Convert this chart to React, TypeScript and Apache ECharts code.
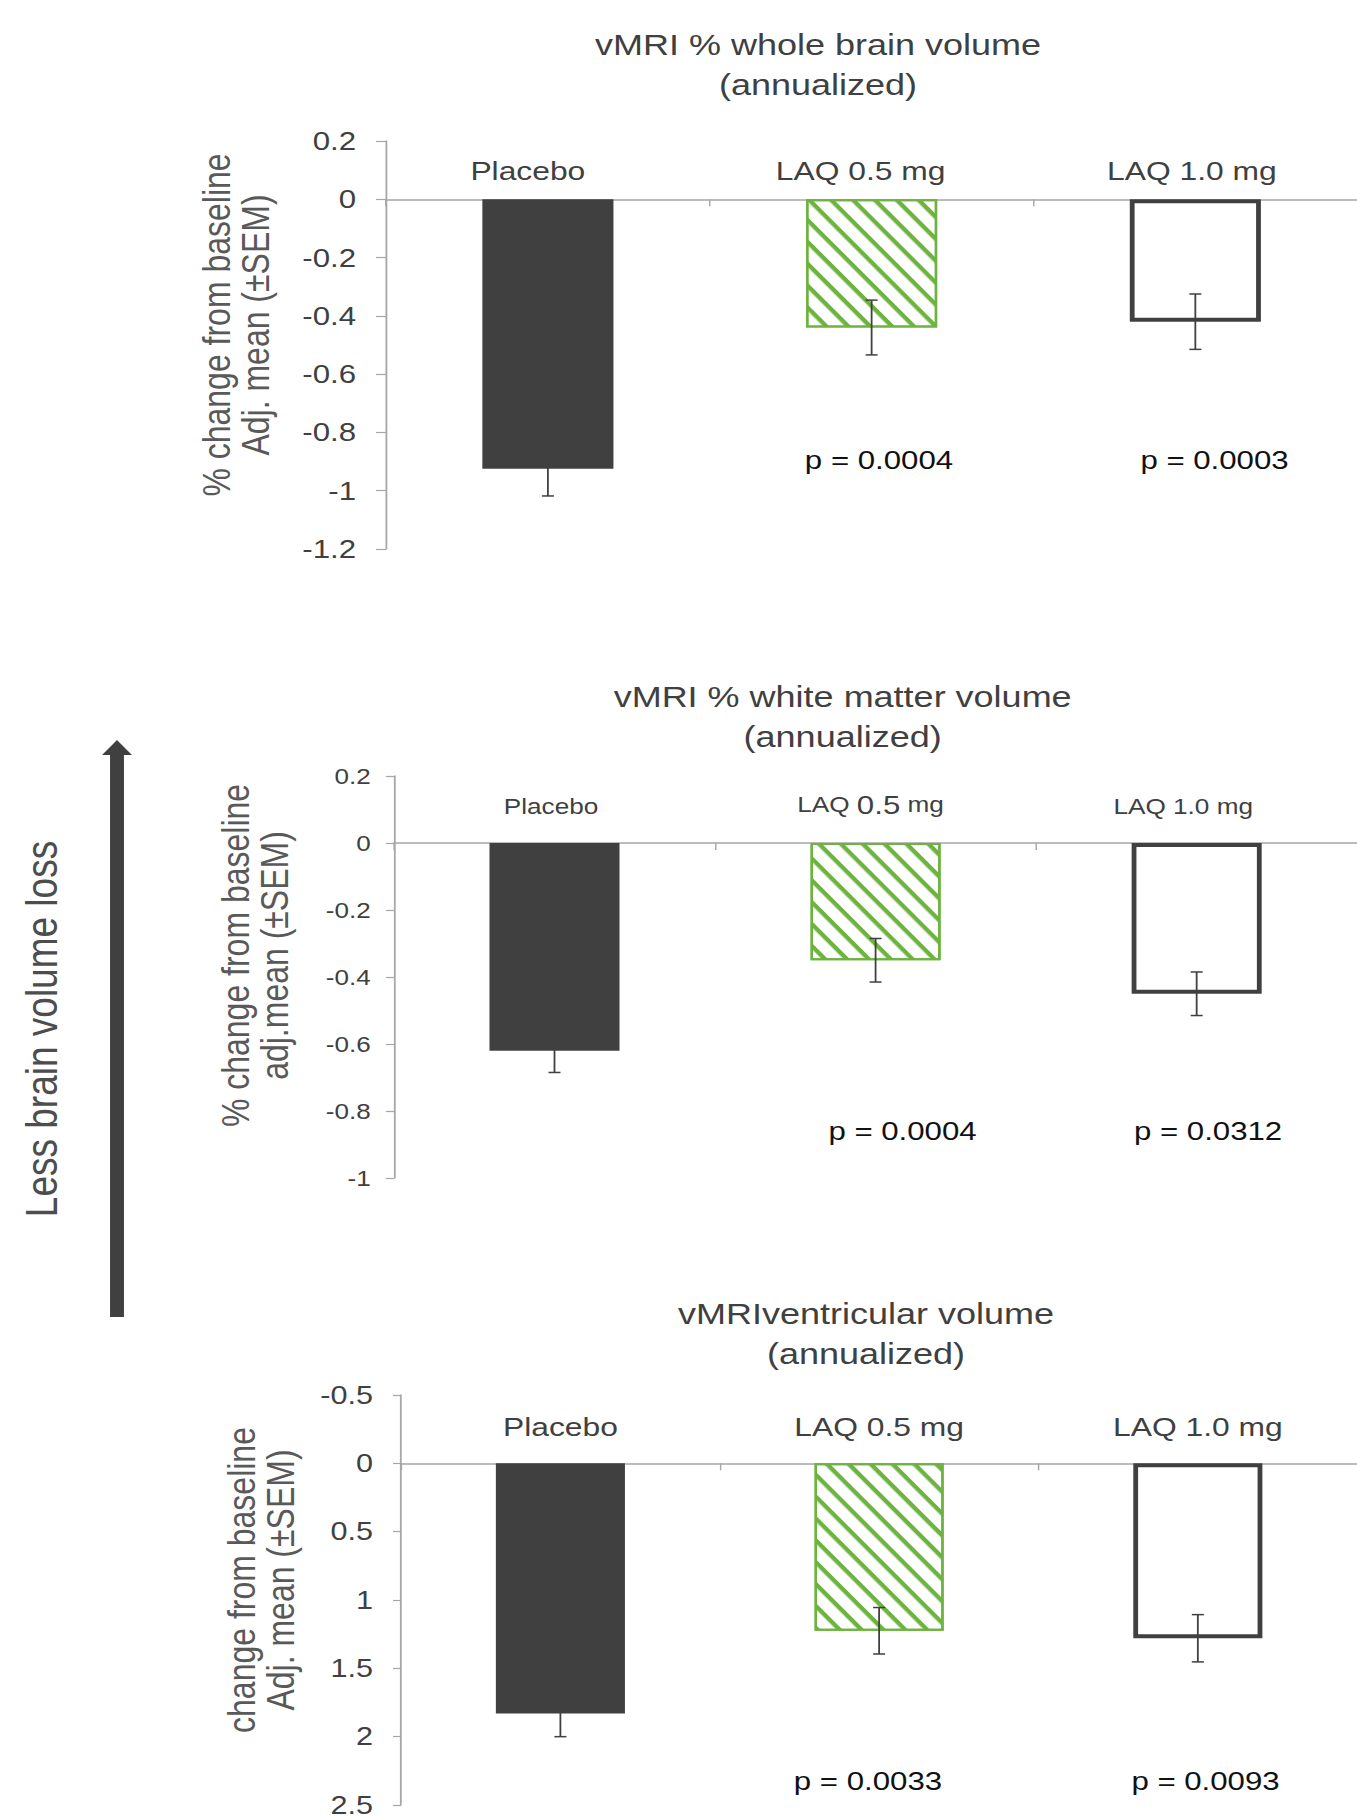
import React, { useEffect, useRef } from "react";
import * as echarts from "echarts";

// ---------- data ----------
const categories = ["Placebo", "LAQ 0.5 mg", "LAQ 1.0 mg"];

const wholeBrainMean = [-0.925, -0.44, -0.42];
const wholeBrainSem = [0.093, 0.094, 0.095];
const wholeBrainP = ["p = 0.0004", "p = 0.0003"];

const whiteMatterMean = [-0.62, -0.35, -0.45];
const whiteMatterSem = [0.065, 0.065, 0.065];
const whiteMatterP = ["p = 0.0004", "p = 0.0312"];

const ventricularMean = [1.83, 1.225, 1.28];
const ventricularSem = [0.17, 0.17, 0.173];
const ventricularP = ["p = 0.0033", "p = 0.0093"];

const titles = [
  "vMRI % whole brain volume\n(annualized)",
  "vMRI % white matter volume\n(annualized)",
  "vMRIventricular volume\n(annualized)",
];
const yNames = [
  "% change from baseline\nAdj. mean (\u00b1SEM)",
  "% change from baseline\nadj.mean (\u00b1SEM)",
  "change from baseline\nAdj. mean (\u00b1SEM)",
];
const sideNote = "Less brain volume loss";

// y-axis ranges: [min, max, interval]
const yRanges = [
  [-1.2, 0.2, 0.2],
  [-1, 0.2, 0.2],
  [-0.5, 2.5, 0.5],
];

// ---------- layout / style ----------
const SX = 1.2; // horizontal stretch of the original picture
const W = 1131;
const H = 1819;
const FONT = '"Liberation Sans", Arial, sans-serif';
const DARK = "#404040";
const GREEN = "#6cb33f";
const AXIS = "#a6a6a6";

const panels = [
  {
    mean: wholeBrainMean, sem: wholeBrainSem, p: wholeBrainP, inverse: false,
    grid: { left: 321.7, top: 141, height: 408 },
    tickFont: 26, catFont: 26.5, yMargin: 25, tickLen: 8.3, catMargin: -43.5,
    shift: [-16.7, -9.2, -2.9],
    title: [681.7, 65], name: [196.7, 325], pPos: [[732.5, 460], [1012.1, 460]],
  },
  {
    mean: whiteMatterMean, sem: whiteMatterSem, p: whiteMatterP, inverse: false,
    grid: { left: 328.3, top: 776, height: 402 },
    tickFont: 21.7, catFont: 21.8, yMargin: 19.4, tickLen: 6.7, catMargin: -41.7,
    shift: [-2.9, -4.2, -11.2], bigMid: true,
    title: [702.2, 717], name: [212.5, 955.5], pPos: [[752.1, 1131], [1006.7, 1131]],
  },
  {
    mean: ventricularMean, sem: ventricularSem, p: ventricularP, inverse: true,
    grid: { left: 334.2, top: 1395, height: 410 },
    tickFont: 25.5, catFont: 26.5, yMargin: 23.3, tickLen: 6.7, catMargin: -45.5,
    shift: [0, 0, 0],
    title: [721.7, 1334], name: [217.5, 1580], pPos: [[723.3, 1781], [1004.6, 1781]],
  },
];

const barStyles = [
  { color: DARK },
  {
    color: "#ffffff",
    borderColor: GREEN,
    borderWidth: 2,
    decal: {
      symbol: "rect",
      symbolSize: 1,
      color: GREEN,
      dashArrayX: [1, 0],
      dashArrayY: [3.6, 9.6],
      rotation: 0.876,
    },
  },
  { color: "#ffffff", borderColor: DARK, borderWidth: 4 },
];

function buildOption() {
  const grid: any[] = [];
  const xAxis: any[] = [];
  const yAxis: any[] = [];
  const series: any[] = [];
  const graphic: any[] = [];

  panels.forEach((pn, i) => {
    grid.push({ left: pn.grid.left, top: pn.grid.top, height: pn.grid.height, right: 0 });

    const rich: any = {};
    pn.shift.forEach((s, k) => {
      rich["s" + k] = {
        fontSize: pn.catFont, fontFamily: FONT, color: DARK,
        padding: s < 0 ? [0, -2 * s, 0, 0] : [0, 0, 0, 2 * s],
      };
    });
    rich.a = { fontSize: pn.catFont, fontFamily: FONT, color: DARK };
    rich.b = { fontSize: 26, fontFamily: FONT, color: DARK };
    rich.c = {
      fontSize: pn.catFont, fontFamily: FONT, color: DARK,
      padding: [0, -2 * pn.shift[1], 0, 0],
    };

    xAxis.push({
      gridIndex: i,
      type: "category",
      data: categories,
      position: "top",
      axisLine: { show: true, onZero: true, lineStyle: { color: AXIS, width: 1.5 } },
      axisTick: { show: true, inside: true, length: 7, lineStyle: { color: AXIS, width: 1.2 } },
      splitLine: { show: false },
      axisLabel: {
        interval: 0,
        hideOverlap: false,
        margin: pn.catMargin,
        fontSize: pn.catFont,
        fontFamily: FONT,
        color: DARK,
        formatter: (v: string, k: number) => {
          if (pn.bigMid && k === 1) {
            const m = v.match(/^(\S+ )(\S+)( .*)$/);
            if (m) return `{a|${m[1]}}{b|${m[2]}}{c|${m[3]}}`;
          }
          return `{s${k}|${v}}`;
        },
        rich,
      },
    });

    const [mn, mx, iv] = yRanges[i];
    yAxis.push({
      gridIndex: i,
      type: "value",
      min: mn,
      max: mx,
      interval: iv,
      inverse: pn.inverse,
      axisLine: { show: true, lineStyle: { color: AXIS, width: 1.5 } },
      axisTick: { show: true, length: pn.tickLen, lineStyle: { color: AXIS, width: 1.2 } },
      splitLine: { show: false },
      axisLabel: { fontSize: pn.tickFont, fontFamily: FONT, color: DARK, margin: pn.yMargin },
    });

    series.push({
      type: "bar",
      xAxisIndex: i,
      yAxisIndex: i,
      barWidth: "40.5%",
      z: 2,
      data: pn.mean.map((v, k) => ({ value: v, itemStyle: barStyles[k] })),
    });

    series.push({
      type: "custom",
      xAxisIndex: i,
      yAxisIndex: i,
      z: 4,
      encode: { x: 0, y: 1 },
      data: pn.mean.map((v, k) => [k, v, pn.sem[k]]),
      renderItem: (params: any, api: any) => {
        const c = api.value(0);
        const m = api.value(1);
        const s = api.value(2);
        const a = api.coord([c, m - s]);
        const b = api.coord([c, m + s]);
        const hw = 5;
        const st = { stroke: DARK, lineWidth: 1.5 };
        return {
          type: "group",
          children: [
            { type: "line", shape: { x1: a[0], y1: a[1], x2: b[0], y2: b[1] }, style: st },
            { type: "line", shape: { x1: a[0] - hw, y1: a[1], x2: a[0] + hw, y2: a[1] }, style: st },
            { type: "line", shape: { x1: b[0] - hw, y1: b[1], x2: b[0] + hw, y2: b[1] }, style: st },
          ],
        };
      },
    });

    graphic.push({
      type: "text",
      x: pn.title[0],
      y: pn.title[1],
      style: {
        text: titles[i], fill: DARK, fontSize: 30, fontFamily: FONT,
        align: "center", verticalAlign: "middle", lineHeight: 40,
      },
    });
    graphic.push({
      type: "text",
      x: pn.name[0],
      y: pn.name[1],
      rotation: Math.PI / 2,
      style: {
        text: yNames[i], fill: "#595959", fontSize: 32, fontFamily: FONT,
        align: "center", verticalAlign: "middle", lineHeight: 32,
      },
    });
    pn.p.forEach((t, k) => {
      graphic.push({
        type: "text",
        x: pn.pPos[k][0],
        y: pn.pPos[k][1],
        style: {
          text: t, fill: "#111111", fontSize: 26, fontFamily: FONT,
          align: "center", verticalAlign: "middle",
        },
      });
    });
  });

  // side arrow and note
  graphic.push({
    type: "polygon",
    shape: {
      points: [
        [91.7, 1317], [91.7, 755], [85, 755], [97.5, 740],
        [110, 755], [103.3, 755], [103.3, 1317],
      ],
    },
    style: { fill: DARK },
  });
  graphic.push({
    type: "text",
    x: 35,
    y: 1029,
    rotation: Math.PI / 2,
    style: {
      text: sideNote, fill: "#4d4d4d", fontSize: 37, fontFamily: FONT,
      align: "center", verticalAlign: "middle",
    },
  });

  return {
    animation: false,
    backgroundColor: "#ffffff",
    grid,
    xAxis,
    yAxis,
    series,
    graphic,
  };
}

export default function App() {
  const ref = useRef<HTMLDivElement>(null);
  useEffect(() => {
    if (!ref.current) return;
    const chart = echarts.init(ref.current, undefined, { renderer: "svg" });
    chart.setOption(buildOption() as any);
    return () => chart.dispose();
  }, []);
  return (
    <div
      style={{
        position: "absolute", left: 0, top: 0, width: W * SX, height: H,
        overflow: "hidden", background: "#fff",
      }}
    >
      <div
        ref={ref}
        style={{ width: W, height: H, transform: `scaleX(${SX})`, transformOrigin: "0 0" }}
      />
    </div>
  );
}
